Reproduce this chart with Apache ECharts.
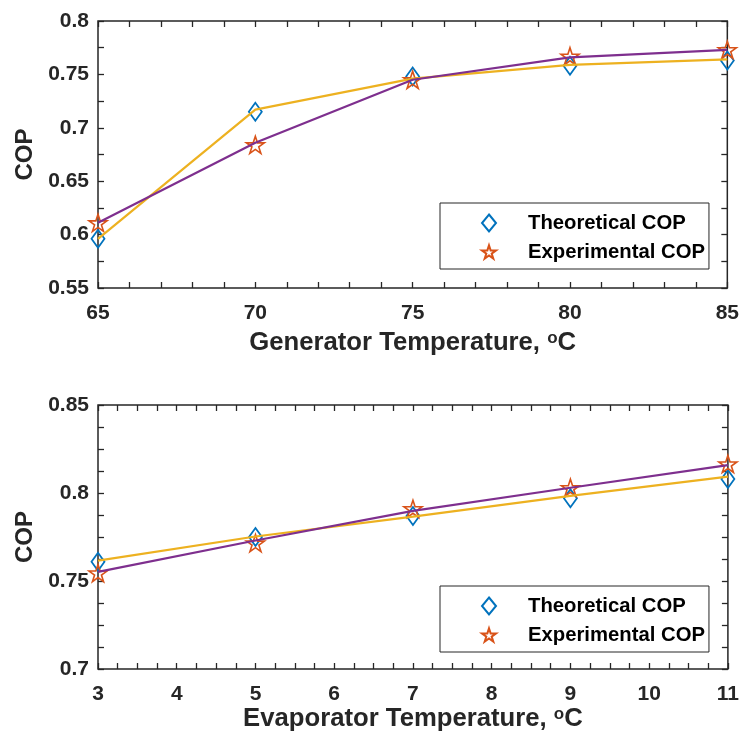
<!DOCTYPE html>
<html>
<head>
<meta charset="utf-8">
<script src="https://cdn.jsdelivr.net/npm/echarts@6/dist/echarts.min.js"></script>
<style>
  html, body { margin: 0; padding: 0; background: #fff; }
  #main { width: 742px; height: 744px; }
</style>
</head>
<body>
<div id="main"></div>
<script>
// top plot: generator temperature
var genTemp = [65, 70, 75, 80, 85];
var genTheoPts = [0.596, 0.715, 0.748, 0.758, 0.763];
var genExpPts = [0.611, 0.684, 0.745, 0.767, 0.773];
var genTheoLine = [0.596, 0.717, 0.746, 0.759, 0.764];
var genExpLine = [0.611, 0.686, 0.745, 0.766, 0.773];

// bottom plot: evaporator temperature
var evapTemp = [3, 5, 7, 9, 11];
var evapTheoPts = [0.761, 0.775, 0.787, 0.797, 0.808];
var evapExpPts = [0.7545, 0.7715, 0.791, 0.803, 0.8165];
var evapTheoLine = [0.7616, 0.7753, 0.7866, 0.7984, 0.8093];
var evapExpLine = [0.7552, 0.773, 0.7898, 0.803, 0.8158];

var names = ['Theoretical COP', 'Experimental COP'];

var FONT = '"Liberation Sans", Arial, sans-serif';
var INK = '#262626';
var BLUE = '#0072BD', ORANGE = '#D95319', YELLOW = '#EDB120', PURPLE = '#7E2F8E';
var STAR = 'path://M50 0 L61.23 34.55 L97.55 34.55 L68.16 55.9 L79.39 90.45 L50 69.1 L20.61 90.45 L31.84 55.9 L2.45 34.55 L38.77 34.55 Z';

function pairs(xs, ys) {
  return xs.map(function (x, i) { return [x, ys[i]]; });
}

function xAx(grid, min, max, step, minor, pos, title, gap) {
  return {
    type: 'value', gridIndex: grid, position: pos, min: min, max: max, interval: step,
    axisLine: { show: false },
    splitLine: { show: false },
    axisTick: { inside: true, length: 6, lineStyle: { color: INK, width: 1.3 } },
    minorTick: { show: true, splitNumber: minor, length: 6, lineStyle: { color: INK, width: 1.3 } },
    axisLabel: { show: pos === 'bottom', margin: 15, color: INK, fontSize: 21, fontWeight: 'bold', fontFamily: FONT },
    name: pos === 'bottom' ? title : '',
    nameLocation: 'middle', nameGap: gap,
    nameTextStyle: {
      color: INK, fontSize: 25.7, fontWeight: 'bold', fontFamily: FONT,
      rich: { sup: { fontSize: 17, fontWeight: 'bold', fontFamily: FONT, color: INK, verticalAlign: 'top', lineHeight: 4 } }
    }
  };
}

function yAx(grid, min, max, step, minor, pos) {
  return {
    type: 'value', gridIndex: grid, position: pos, min: min, max: max, interval: step,
    axisLine: { show: false },
    splitLine: { show: false },
    axisTick: { inside: true, length: 6, lineStyle: { color: INK, width: 1.3 } },
    minorTick: { show: true, splitNumber: minor, length: 6, lineStyle: { color: INK, width: 1.3 } },
    axisLabel: { show: pos === 'left', margin: 9, color: INK, fontSize: 21, fontWeight: 'bold', fontFamily: FONT },
    name: pos === 'left' ? 'COP' : '',
    nameLocation: 'middle', nameGap: 61,
    nameTextStyle: { color: INK, fontSize: 24, fontWeight: 'bold', fontFamily: FONT }
  };
}

function seriesFor(ax, xs, theoPts, expPts, theoLine, expLine) {
  return [
    { name: names[0], type: 'scatter', xAxisIndex: ax, yAxisIndex: ax, data: pairs(xs, theoPts),
      symbol: 'diamond', symbolSize: [13, 18], clip: false, z: 2,
      itemStyle: { color: 'rgba(0,0,0,0)', opacity: 1, borderColor: BLUE, borderWidth: 1.8 } },
    { name: names[1], type: 'scatter', xAxisIndex: ax, yAxisIndex: ax, data: pairs(xs, expPts),
      symbol: STAR, symbolSize: 18, symbolKeepAspect: true, clip: false, z: 2,
      itemStyle: { color: 'rgba(0,0,0,0)', opacity: 1, borderColor: ORANGE, borderWidth: 1.6 } },
    { type: 'line', xAxisIndex: ax, yAxisIndex: ax, data: pairs(xs, theoLine), showSymbol: false,
      clip: false, z: 3, lineStyle: { color: YELLOW, width: 2.2 }, silent: true },
    { type: 'line', xAxisIndex: ax, yAxisIndex: ax, data: pairs(xs, expLine), showSymbol: false,
      clip: false, z: 3, lineStyle: { color: PURPLE, width: 2.2 }, silent: true }
  ];
}

function legendAt(top) {
  return {
    data: names, orient: 'vertical', left: 440, top: top,
    padding: [10, 4, 7, 41], itemGap: 9, itemWidth: 14, itemHeight: 17,
    borderColor: INK, borderWidth: 1, backgroundColor: '#fff',
    selectedMode: false,
    textStyle: { color: '#000', fontSize: 20.3, fontWeight: 'bold', fontFamily: FONT, padding: [0, 0, 0, 27] }
  };
}

var chart = echarts.init(document.getElementById('main'));
chart.setOption({
  animation: false,
  grid: [
    { left: 98, right: 13, top: 21, height: 267, show: true, borderColor: INK, borderWidth: 1.5, backgroundColor: '#fff' },
    { left: 98, right: 13, top: 405, height: 264, show: true, borderColor: INK, borderWidth: 1.5, backgroundColor: '#fff' }
  ],
  xAxis: [
    xAx(0, 65, 85, 5, 5, 'bottom', 'Generator Temperature, {sup|o}C', 42),
    xAx(0, 65, 85, 5, 5, 'top'),
    xAx(1, 3, 11, 1, 4, 'bottom', 'Evaporator Temperature, {sup|o}C', 36),
    xAx(1, 3, 11, 1, 4, 'top')
  ],
  yAxis: [
    yAx(0, 0.55, 0.8, 0.05, 2, 'left'),
    yAx(0, 0.55, 0.8, 0.05, 2, 'right'),
    yAx(1, 0.7, 0.85, 0.05, 4, 'left'),
    yAx(1, 0.7, 0.85, 0.05, 4, 'right')
  ],
  legend: [legendAt(203), legendAt(586)],
  series: seriesFor(0, genTemp, genTheoPts, genExpPts, genTheoLine, genExpLine)
    .concat(seriesFor(2, evapTemp, evapTheoPts, evapExpPts, evapTheoLine, evapExpLine))
});
</script>
</body>
</html>
